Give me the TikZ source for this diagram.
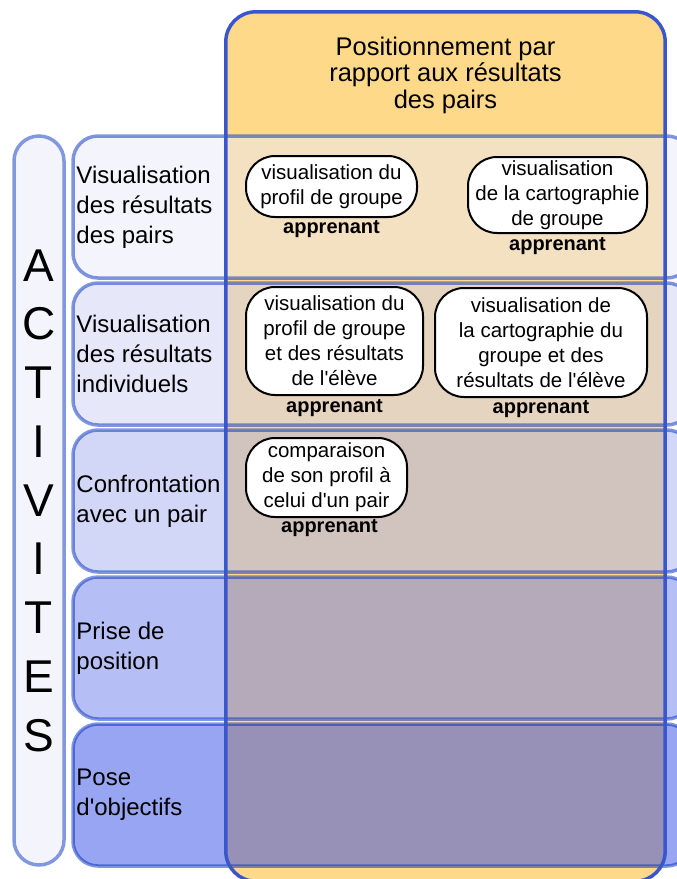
\documentclass[tikz,border=0pt]{standalone}
\usepackage{fontspec}
\setmainfont{Liberation Sans}[Ligatures=TeXOff]
\usepackage{xcolor}
\definecolor{colFill}{HTML}{FFD98A}
\definecolor{colBorder}{HTML}{3A56CC}
\definecolor{rowBorder}{HTML}{012DBD}
\definecolor{barFill}{HTML}{F4F4FD}
\definecolor{barBorder}{HTML}{8298DE}
\definecolor{rowA}{RGB}{233,233,251}
\definecolor{rowB}{RGB}{205,209,245}
\definecolor{rowC}{RGB}{165,175,241}
\definecolor{rowD}{RGB}{107,125,235}
\definecolor{rowE}{RGB}{49,75,229}
\usetikzlibrary{positioning}
\tikzset{
    % Orange column - the positioning dimension
    colonne/.style={
        rectangle,
        rounded corners=30pt,
        fill=colFill,
        minimum width=439pt,
        minimum height=869pt,
        inner sep=0pt,
    },
    % Frame of the column, drawn over the rows
    colframe/.style={
        draw=colBorder,
        line width=3.5pt,
        rounded corners=30pt,
    },
    % Activity rows - translucent blue bands
    rowbox/.style={
        rectangle,
        rounded corners=25pt,
        draw=rowBorder,
        draw opacity=0.5,
        fill opacity=0.5,
        line width=3.5pt,
        minimum width=619pt,
        minimum height=142pt,
    },
    % Vertical ACTIVITES bar
    barbox/.style={
        rectangle,
        rounded corners=25pt,
        draw=barBorder,
        fill=barFill,
        line width=3.5pt,
        minimum width=50pt,
        minimum height=729pt,
        align=center,
        inner sep=0pt,
        font=\fontsize{46}{58.75}\selectfont,
    },
    % Row labels
    rowlabel/.style={
        font=\fontsize{24}{30}\selectfont,
        align=left,
        inner sep=0pt,
    },
    % Column title
    header/.style={
        font=\fontsize{25.5}{26.5}\selectfont,
        align=center,
        inner sep=0pt,
    },
    % Task bubbles
    tache/.style={
        rectangle,
        rounded corners=29pt,
        draw=black,
        line width=2pt,
        fill=white,
        align=center,
        inner sep=0pt,
        font=\fontsize{20.5}{25}\selectfont,
    },
    % Actor under a task
    role/.style={
        font=\bfseries\fontsize{20}{24}\selectfont,
        inner sep=0pt,
    },
}

\begin{document}
\begin{tikzpicture}[x=1pt, y=-1pt]
    \useasboundingbox (0,0) rectangle (677,879);

    \node (colonne) [colonne] at (445.5,446.5) {};
    \node (titre) [header, below=25pt of colonne.north] {Positionnement par\\rapport aux résultats\\des pairs};

    \node (activites) [barbox] at (39,500.5) {A\\C\\T\\I\\V\\I\\T\\E\\S};

    \node (row1) [rowbox, fill=rowA] at (382.5,207) {};
    \node (row2) [rowbox, fill=rowB] at (382.5,354) {};
    \node (row3) [rowbox, fill=rowC] at (382.5,501) {};
    \node (row4) [rowbox, fill=rowD] at (382.5,648) {};
    \node (row5) [rowbox, fill=rowE] at (382.5,795) {};

    \draw [colframe] (colonne.south west) rectangle (colonne.north east);

    \node (lab1) [rowlabel, right=5pt of row1.west] {Visualisation\\des résultats\\des pairs};
    \node (lab2) [rowlabel, right=5pt of row2.west] {Visualisation\\des résultats\\individuels};
    \node (lab3) [rowlabel, right=5pt of row3.west] {Confrontation\\avec un pair};
    \node (lab4) [rowlabel, right=5pt of row4.west] {Prise de\\position};
    \node (lab5) [rowlabel, right=5pt of row5.west] {Pose\\d'objectifs};

    \node (t1) [tache, minimum width=171pt, minimum height=61pt] at (331.5,186.5) {visualisation du\\profil de groupe};
    \node (t2) [tache, minimum width=179pt, minimum height=76pt] at (557.5,195) {visualisation\\de la cartographie\\de groupe};
    \node (t3) [tache, minimum width=177pt, minimum height=108pt] at (334.5,341) {visualisation du\\profil de groupe\\et des résultats\\de l'élève};
    \node (t4) [tache, minimum width=212pt, minimum height=109pt] at (541,342.5) {visualisation de\\la cartographie du\\groupe et des\\résultats de l'élève};
    \node (t5) [tache, minimum width=161pt, minimum height=79pt] at (326.5,477.5) {comparaison\\de son profil à\\celui d'un pair};

    \node (r1) [role, below=2pt of t1] {apprenant};
    \node (r2) [role, below=3pt of t2] {apprenant};
    \node (r3) [role, below=3pt of t3] {apprenant};
    \node (r4) [role, below=2pt of t4] {apprenant};
    \node (r5) [role, below=1pt of t5, xshift=3pt] {apprenant};
\end{tikzpicture}
\end{document}
